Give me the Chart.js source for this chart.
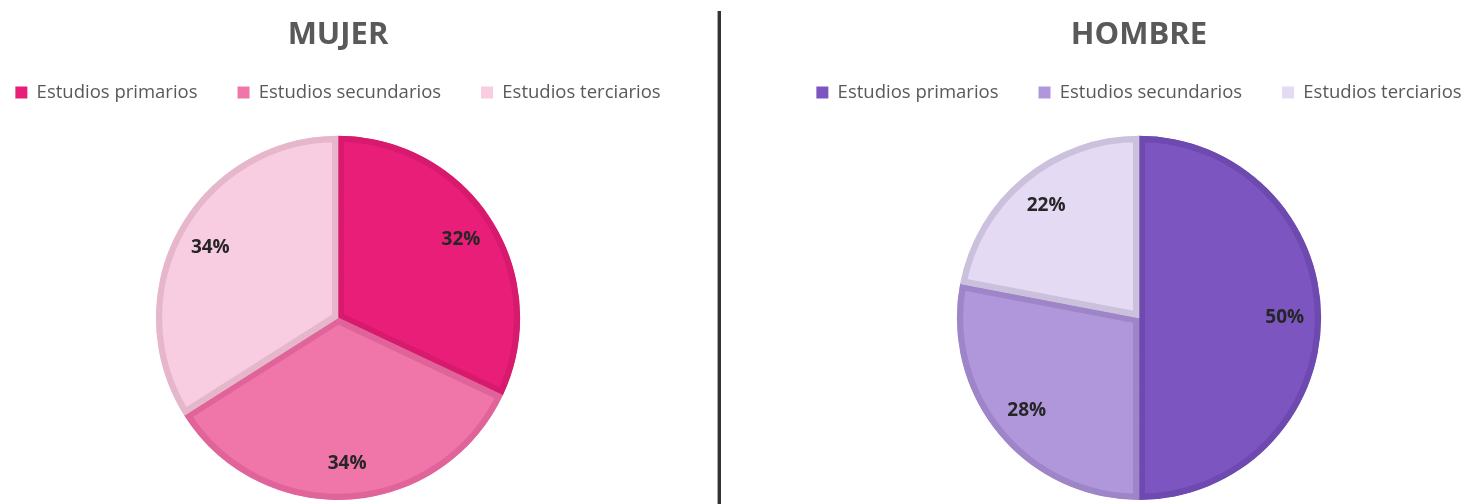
<!doctype html>
<html lang="es">
 <head>
  <meta charset="UTF-8">
  <title>Estudios por sexo</title>
  <script src="https://cdn.jsdelivr.net/npm/chart.js"></script>
  <style>
        body {
            margin: 0;
            background: #fff;
            width: 1465px;
            height: 504px;
            overflow: hidden;
            position: relative;
            font-family: 'Open Sans', sans-serif;
        }

        .chart-box {
            position: absolute;
            top: 0;
            width: 760px;
            height: 504px;
        }

        #left-box { left: -42px; }
        #right-box { left: 759px; }

        .separator {
            position: absolute;
            left: 717px;
            top: 11px;
            bottom: 0;
            width: 3px;
            background: #333;
            border-left: 1px solid #aaa;
        }
    </style>
 </head>
 <body>
  <div class="chart-box" id="left-box"><canvas id="mujer"></canvas></div>
  <div class="separator"></div>
  <div class="chart-box" id="right-box"><canvas id="hombre"></canvas></div>
  <script>
        const categorias = ['Estudios primarios', 'Estudios secundarios', 'Estudios terciarios'];
        const mujerValores = [32, 34, 34];
        const hombreValores = [50, 28, 22];

        const mujerColores = ['#E91E78', '#F075A9', '#F8CDE2'];
        const mujerBordes = ['#D71A6D', '#E0649A', '#E6B6CB'];
        const hombreColores = ['#7D55C1', '#B097DB', '#E4DAF3'];
        const hombreBordes = ['#6E49B0', '#9D85C8', '#CBC1DD'];

        const textColor = '#595959';

        // etiquetas de porcentaje dentro de cada porción
        const percentLabels = {
            id: 'percentLabels',
            afterDatasetsDraw(chart) {
                const ctx = chart.ctx;
                const meta = chart.getDatasetMeta(0);
                const data = chart.data.datasets[0].data;
                ctx.save();
                ctx.font = 'bold 19px "Open Sans", sans-serif';
                ctx.fillStyle = '#262626';
                ctx.textAlign = 'center';
                ctx.textBaseline = 'middle';
                meta.data.forEach((arc, i) => {
                    const p = arc.getProps(['x', 'y', 'startAngle', 'endAngle', 'outerRadius'], true);
                    const mid = (p.startAngle + p.endAngle) / 2;
                    const r = p.outerRadius * 0.8;
                    ctx.fillText(data[i] + '%', p.x + Math.cos(mid) * r, p.y + Math.sin(mid) * r);
                });
                ctx.restore();
            }
        };

        // un poco más de aire bajo la leyenda
        const legendSpace = {
            id: 'legendSpace',
            beforeInit(chart) {
                const fit = chart.legend.fit;
                chart.legend.fit = function () {
                    fit.bind(chart.legend)();
                    this.height += 24;
                };
            }
        };

        function crearPie(id, titulo, valores, colores, bordes) {
            const ctx = document.getElementById(id).getContext('2d');
            return new Chart(ctx, {
                type: 'pie',
                data: {
                    labels: categorias,
                    datasets: [{
                        data: valores,
                        backgroundColor: colores,
                        borderColor: bordes,
                        borderWidth: 6,
                        borderAlign: 'inner'
                    }]
                },
                options: {
                    responsive: true,
                    maintainAspectRatio: false,
                    animation: false,
                    layout: { padding: { top: 0, bottom: 4 } },
                    plugins: {
                        title: {
                            display: true,
                            text: titulo,
                            color: textColor,
                            font: { family: '"Open Sans", sans-serif', size: 31, weight: 'bold' },
                            padding: { top: 17, bottom: -11 }
                        },
                        legend: {
                            position: 'top',
                            labels: {
                                color: textColor,
                                font: { family: '"Open Sans", sans-serif', size: 18.5 },
                                boxWidth: 12,
                                boxHeight: 12,
                                padding: 40,
                                generateLabels(chart) {
                                    const items = Chart.overrides.pie.plugins.legend.labels.generateLabels(chart);
                                    items.forEach(it => { it.lineWidth = 0; });
                                    return items;
                                }
                            }
                        },
                        tooltip: { enabled: false }
                    }
                },
                plugins: [percentLabels, legendSpace]
            });
        }

        crearPie('mujer', 'MUJER', mujerValores, mujerColores, mujerBordes);
        crearPie('hombre', 'HOMBRE', hombreValores, hombreColores, hombreBordes);
    </script>
 </body>
</html>
